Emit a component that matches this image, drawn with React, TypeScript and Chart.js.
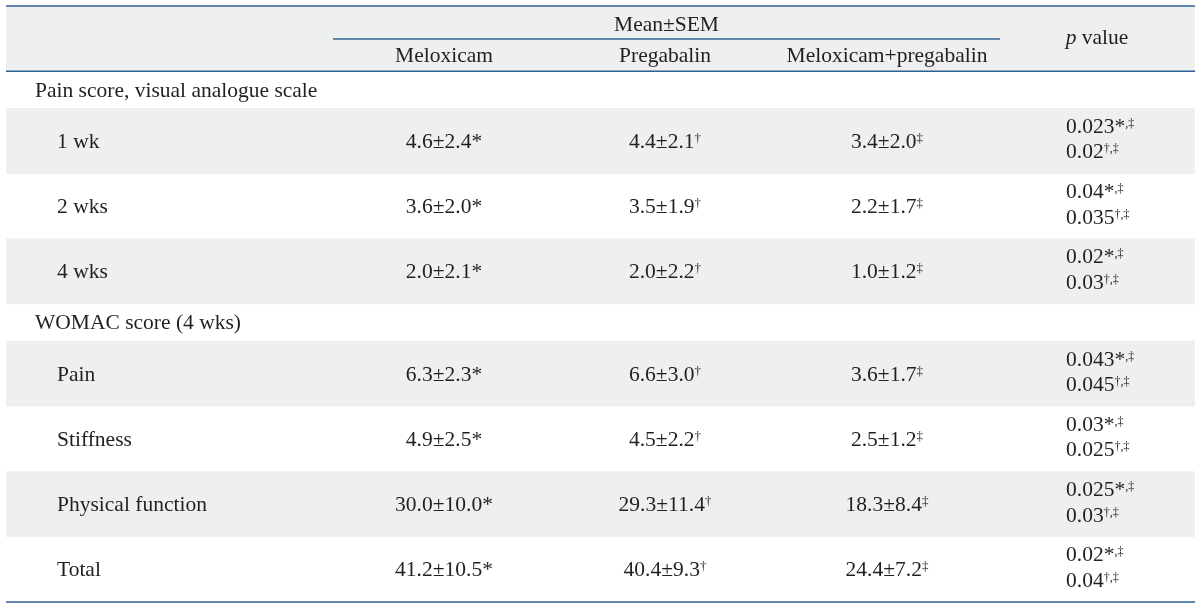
import React, { useEffect, useRef } from "react";
import { Chart, registerables } from "chart.js";

Chart.register(...registerables);

// ---------- data ----------
const groupHeader = "Mean±SEM";
const columns = ["Meloxicam", "Pregabalin", "Meloxicam+pregabalin"];
const columnMarks = ["*", "†", "‡"];
const pHeader = ["p", " value"];
const sections = ["Pain score, visual analogue scale", "WOMAC score (4 wks)"];
const rowLabels = ["1 wk", "2 wks", "4 wks", "Pain", "Stiffness", "Physical function", "Total"];
const rowSection = [0, 0, 0, 1, 1, 1, 1];

const meloxicamMean = [4.6, 3.6, 2.0, 6.3, 4.9, 30.0, 41.2];
const meloxicamSem = [2.4, 2.0, 2.1, 2.3, 2.5, 10.0, 10.5];
const pregabalinMean = [4.4, 3.5, 2.0, 6.6, 4.5, 29.3, 40.4];
const pregabalinSem = [2.1, 1.9, 2.2, 3.0, 2.2, 11.4, 9.3];
const comboMean = [3.4, 2.2, 1.0, 3.6, 2.5, 18.3, 24.4];
const comboSem = [2.0, 1.7, 1.2, 1.7, 1.2, 8.4, 7.2];

const pMeloxicamVsCombo = ["0.023", "0.04", "0.02", "0.043", "0.03", "0.025", "0.02"];
const pPregabalinVsCombo = ["0.02", "0.035", "0.03", "0.045", "0.025", "0.03", "0.04"];

// ---------- layout (scale units) ----------
const TABLE_W = 1189;
const COL_CENTERS = [438, 659, 881];
const P_LEFT = 1060;
const P_HEADER_CENTER = 1091;
const SECTION_INDENT = 29;
const ROW_INDENT = 51;
const GROUP_LINE = [327, 994];
const HEADER_H = 1;
const SECTION_H = 0.567;
const ROW_H = 1;

const FONT = "'Liberation Serif', 'Times New Roman', Times, serif";
const FS = 21.5;
const TEXT_COLOR = "#231f20";
const LINE_COLOR = "#2f5f92";
const GREY = "#eeefef";

// compute row geometry
type RowGeo = { center: number; shaded: boolean };
const rowGeo: RowGeo[] = [];
const sectionGeo: number[] = [];
(() => {
  let cursor = HEADER_H;
  let prevSec = -1;
  let idxInSec = 0;
  rowLabels.forEach((_, i) => {
    if (rowSection[i] !== prevSec) {
      sectionGeo.push(cursor + SECTION_H / 2);
      cursor += SECTION_H;
      prevSec = rowSection[i];
      idxInSec = 0;
    }
    rowGeo.push({ center: cursor + ROW_H / 2, shaded: idxInSec % 2 === 0 });
    cursor += ROW_H;
    idxInSec++;
  });
})();
const TOTAL_H = HEADER_H + SECTION_H * sections.length + ROW_H * rowLabels.length;

const greyCenters = [HEADER_H / 2, ...rowGeo.filter((r) => r.shaded).map((r) => r.center)];

type Seg = { t: string; sup?: boolean; it?: boolean };

function fontFor(s: Seg, supSize: number) {
  if (s.sup) return `${supSize}px ${FONT}`;
  return `${s.it ? "italic " : ""}${FS}px ${FONT}`;
}

function drawRich(
  ctx: CanvasRenderingContext2D,
  segs: Seg[],
  x: number,
  baseline: number,
  align: "center" | "left",
  supSize = 13,
  raise = 6
) {
  let w = 0;
  for (const s of segs) {
    ctx.font = fontFor(s, supSize);
    w += ctx.measureText(s.t).width;
  }
  let cx = align === "center" ? x - w / 2 : x;
  ctx.textAlign = "left";
  ctx.textBaseline = "alphabetic";
  for (const s of segs) {
    ctx.font = fontFor(s, supSize);
    ctx.fillText(s.t, cx, s.sup ? baseline - raise : baseline);
    cx += ctx.measureText(s.t).width;
  }
}

const tablePlugin = {
  id: "tableText",
  afterDatasetsDraw(chart: any) {
    const ctx: CanvasRenderingContext2D = chart.ctx;
    const xs = chart.scales.x;
    const ys = chart.scales.y;
    const X = (v: number) => xs.getPixelForValue(v);
    const Y = (v: number) => ys.getPixelForValue(v);
    ctx.save();

    // rules
    ctx.strokeStyle = LINE_COLOR;
    ctx.lineWidth = 1.5;
    const hline = (y: number, x0: number, x1: number) => {
      ctx.beginPath();
      ctx.moveTo(X(x0), Y(y));
      ctx.lineTo(X(x1), Y(y));
      ctx.stroke();
    };
    hline(0, 0, TABLE_W);
    hline(HEADER_H, 0, TABLE_W);
    hline(TOTAL_H, 0, TABLE_W);
    hline(0.506, GROUP_LINE[0], GROUP_LINE[1]);

    ctx.fillStyle = TEXT_COLOR;
    // header
    drawRich(ctx, [{ t: groupHeader }], X((GROUP_LINE[0] + GROUP_LINE[1]) / 2), Y(0.383), "center");
    columns.forEach((c, i) => drawRich(ctx, [{ t: c }], X(COL_CENTERS[i]), Y(0.862), "center"));
    drawRich(ctx, [{ t: pHeader[0], it: true }, { t: pHeader[1] }], X(P_HEADER_CENTER), Y(0.58), "center");

    // sections
    sections.forEach((s, i) => drawRich(ctx, [{ t: s }], X(SECTION_INDENT), Y(sectionGeo[i]) + 7, "left"));

    const means = [meloxicamMean, pregabalinMean, comboMean];
    const sems = [meloxicamSem, pregabalinSem, comboSem];
    rowLabels.forEach((label, r) => {
      const cy = Y(rowGeo[r].center);
      drawRich(ctx, [{ t: label }], X(ROW_INDENT), cy + 7, "left");
      for (let c = 0; c < 3; c++) {
        const txt = `${means[c][r].toFixed(1)}±${sems[c][r].toFixed(1)}`;
        const segs: Seg[] =
          c === 0 ? [{ t: txt + columnMarks[0] }] : [{ t: txt }, { t: columnMarks[c], sup: true }];
        drawRich(ctx, segs, X(COL_CENTERS[c]), cy + 7, "center", 13, 6);
      }
      drawRich(
        ctx,
        [{ t: pMeloxicamVsCombo[r] + columnMarks[0] }, { t: "," + columnMarks[2], sup: true }],
        X(P_LEFT),
        cy - 8,
        "left",
        12,
        6
      );
      drawRich(
        ctx,
        [{ t: pPregabalinVsCombo[r] }, { t: columnMarks[1] + "," + columnMarks[2], sup: true }],
        X(P_LEFT),
        cy + 17.5,
        "left",
        12,
        6
      );
    });

    ctx.restore();
  },
};

export default function App() {
  const ref = useRef<HTMLCanvasElement | null>(null);
  useEffect(() => {
    if (!ref.current) return;
    const chart = new Chart(ref.current, {
      type: "bar",
      data: {
        datasets: [
          {
            data: greyCenters.map((c) => ({ y: c, x: [0, TABLE_W] })) as any,
            backgroundColor: GREY,
            borderWidth: 0,
            barPercentage: 1,
            categoryPercentage: 1,
          },
        ],
      },
      options: {
        indexAxis: "y",
        animation: false,
        responsive: false,
        devicePixelRatio: 1,
        events: [],
        layout: { padding: { left: 6, right: 5, top: 6, bottom: 6 } },
        plugins: { legend: { display: false }, tooltip: { enabled: false } },
        scales: {
          x: { type: "linear", min: 0, max: TABLE_W, display: false, offset: false },
          y: {
            type: "linear",
            min: 0,
            max: TOTAL_H,
            reverse: true,
            display: false,
            offset: false,
            ticks: { stepSize: 1, includeBounds: false },
          },
        },
      },
      plugins: [tablePlugin],
    });
    return () => chart.destroy();
  }, []);
  return (
    <div style={{ position: "fixed", left: 0, top: 0, width: 1200, height: 608, background: "#fff" }}>
      <canvas ref={ref} width={1200} height={608} />
    </div>
  );
}
